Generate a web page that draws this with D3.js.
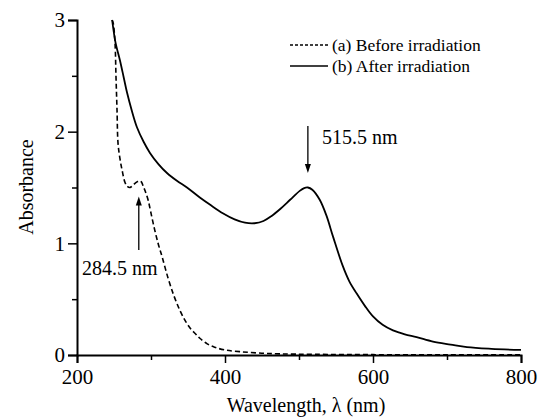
<!DOCTYPE html>
<html><head><meta charset="utf-8">
<script src="https://cdn.jsdelivr.net/npm/d3@7"></script>
<style>body{margin:0;background:#fff}svg{display:block}text{font-family:"Liberation Serif","Times New Roman",serif !important;fill:#000}</style>
</head><body><svg id="c" width="544" height="420"></svg>
<script>
const beforeWL = [247.5,249,251.4,252.7,254.1,255.4,258,260.8,264.9,268,271.6,275,278,281,284,287,289,292,296,300,305,310,315,323,331,339,346,353,360,366,376,386,400,420,445,474,520,600,700,800];
const beforeAbs = [3.0,2.97,2.79,2.49,2.19,1.90,1.76,1.66,1.545,1.51,1.50,1.515,1.535,1.55,1.56,1.55,1.52,1.47,1.39,1.27,1.12,0.99,0.88,0.69,0.53,0.40,0.31,0.24,0.19,0.15,0.10,0.07,0.045,0.03,0.018,0.01,0.006,0.003,0.002,0.002];
const afterWL = [247.5,252,258,263,267.6,274,281,290,298.6,310,321.6,335,348.6,366,381,397,413,427,440,452,463,475,488,501,507,512,518,528,537,546,559,568,578,589,600,613,627,643,659,681,705,727,760,800];
const afterAbs = [3.0,2.80,2.64,2.49,2.35,2.19,2.04,1.91,1.81,1.71,1.63,1.56,1.50,1.41,1.34,1.27,1.215,1.185,1.18,1.2,1.245,1.31,1.39,1.47,1.495,1.50,1.48,1.39,1.25,1.06,0.80,0.66,0.55,0.44,0.345,0.27,0.22,0.185,0.16,0.12,0.093,0.07,0.055,0.045];
const xTicks = [200,400,600,800];
const xMinor = [300,500,700];
const yTicks = [0,1,2,3];
const yMinor = [0.5,1.5,2.5];
const legendLabels = ["(a) Before irradiation","(b) After irradiation"];
const peakLabels = ["284.5 nm","515.5 nm"];

const svg = d3.select("#c");
const x = d3.scaleLinear().domain([200,800]).range([77,521]);
const y = d3.scaleLinear().domain([0,3]).range([355,20]);

// axes
const xAxis = svg.append("g").attr("transform","translate(0,355)")
  .call(d3.axisBottom(x).tickValues(xTicks).tickSize(8).tickPadding(5).tickFormat(d3.format("d")));
const yAxis = svg.append("g").attr("transform","translate(77,0)")
  .call(d3.axisLeft(y).tickValues(yTicks).tickSize(9).tickPadding(3).tickFormat(d3.format("d")));
[xAxis,yAxis].forEach(g=>{
  g.attr("font-family","Liberation Serif");
  g.select(".domain").attr("stroke","#000").attr("stroke-width",2);
  g.selectAll(".tick line").attr("stroke","#000").attr("stroke-width",1.5);
  g.selectAll(".tick text").style("font-size","21px");
});
xAxis.selectAll(".tick text").attr("dy","0.78em");
svg.append("g").attr("transform","translate(0,355)").call(d3.axisBottom(x).tickValues(xMinor).tickSize(5).tickFormat(""))
  .call(g=>{g.select(".domain").remove();g.selectAll("line").attr("stroke","#000").attr("stroke-width",1.5);});
svg.append("g").attr("transform","translate(77,0)").call(d3.axisLeft(y).tickValues(yMinor).tickSize(5).tickFormat(""))
  .call(g=>{g.select(".domain").remove();g.selectAll("line").attr("stroke","#000").attr("stroke-width",1.5);});

// axis titles
svg.append("text").attr("x",(x(200)+x(800))/2+7).attr("y",412).attr("text-anchor","middle").style("font-size","20px").text("Wavelength, \u03bb (nm)");
svg.append("text").attr("transform","translate(33,187) rotate(-90)").attr("text-anchor","middle").style("font-size","20px").text("Absorbance");

// curves
const line = d3.line().x(d=>x(d[0])).y(d=>y(d[1])).curve(d3.curveCatmullRom.alpha(0.5));
svg.append("path").datum(beforeWL.map((w,i)=>[w,beforeAbs[i]])).attr("d",line)
  .attr("fill","none").attr("stroke","#000").attr("stroke-width",1.6).attr("stroke-dasharray","5,3");
svg.append("path").datum(afterWL.map((w,i)=>[w,afterAbs[i]])).attr("d",line)
  .attr("fill","none").attr("stroke","#000").attr("stroke-width",1.8);

// legend
const leg = svg.append("g");
[0,1].forEach(i=>{
  const ly = 45 + i*21;
  leg.append("line").attr("x1",290).attr("x2",328).attr("y1",ly).attr("y2",ly)
    .attr("stroke","#000").attr("stroke-width",1.5).attr("stroke-dasharray", i===0?"3,2":null);
  leg.append("text").attr("x",332).attr("y",ly+5.5).style("font-size","17.5px").text(legendLabels[i]);
});

// annotations
function arrow(xv, y0v, y1v){
  const xp = x(xv), a = y(y0v), b = y(y1v);
  const dir = b>a?1:-1;
  svg.append("line").attr("x1",xp).attr("x2",xp).attr("y1",a).attr("y2",b-dir*7).attr("stroke","#000").attr("stroke-width",1.3);
  svg.append("path").attr("d",`M${xp},${b} L${xp-3},${b-dir*9} L${xp+3},${b-dir*9} Z`).attr("fill","#000");
}
arrow(283.5, 0.94, 1.42);
arrow(512, 2.05, 1.63);
svg.append("text").attr("x",82).attr("y",275).style("font-size","20px").text(peakLabels[0]);
svg.append("text").attr("x",322).attr("y",144).style("font-size","20px").text(peakLabels[1]);
</script></body></html>
